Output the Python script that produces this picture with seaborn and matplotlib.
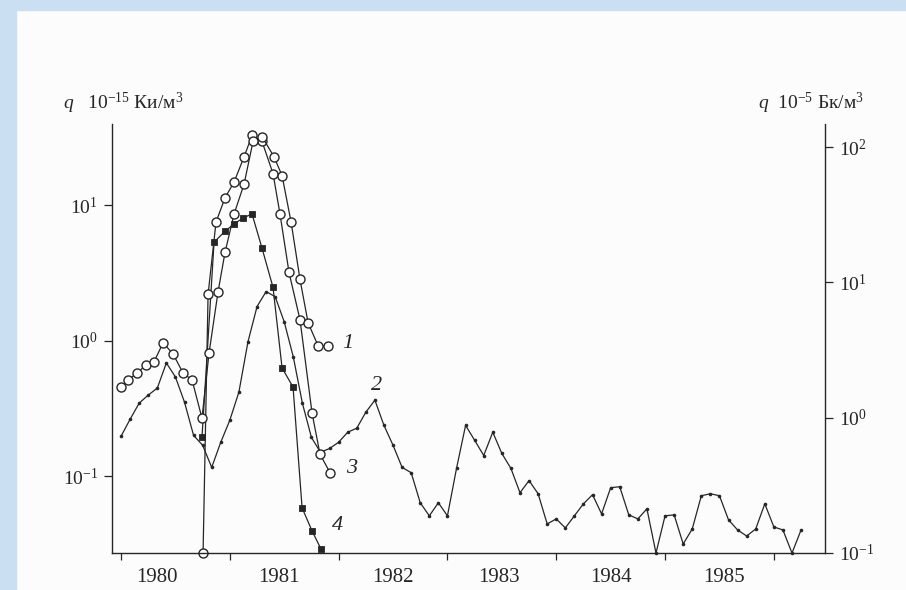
import numpy as np
import matplotlib
matplotlib.use("Agg")
import matplotlib.pyplot as plt
import seaborn as sns
from matplotlib.patches import Rectangle
from matplotlib.ticker import FixedLocator, FixedFormatter, NullLocator, NullFormatter

# ---- data -------------------------------------------------------------
# curve 2: monthly values, January 1980 onwards (10^-15 Ci/m^3)
months2 = np.arange(76)
q2 = [0.197, 0.263, 0.346, 0.397, 0.447, 0.686, 0.540, 0.352, 0.200, 0.169,
      0.116, 0.178, 0.259, 0.418, 0.983, 1.79, 2.31, 2.12, 1.38, 0.760,
      0.346, 0.193, 0.150, 0.160, 0.178, 0.211, 0.226, 0.297, 0.364, 0.237,
      0.169, 0.116, 0.106, 0.0635, 0.0509, 0.0635, 0.0509, 0.114, 0.237, 0.184,
      0.142, 0.211, 0.147, 0.114, 0.0754, 0.0926, 0.0741, 0.0443, 0.0483, 0.0414,
      0.0509, 0.0624, 0.0729, 0.0526, 0.0821, 0.0835, 0.0517, 0.0483, 0.0573, 0.0270,
      0.0509, 0.0517, 0.0315, 0.0407, 0.0716, 0.0741, 0.0716, 0.0475, 0.0400, 0.0361,
      0.0407, 0.0624, 0.0421, 0.0400, 0.0270, 0.0400]

# curve 1: open circles
t1 = [1980.000, 1980.064, 1980.147, 1980.230, 1980.303, 1980.386, 1980.478,
      1980.570, 1980.653, 1980.744, 1980.809, 1980.892, 1980.956, 1981.039,
      1981.131, 1981.213, 1981.296, 1981.406, 1981.480, 1981.563, 1981.645,
      1981.719, 1981.811, 1981.903]
q1 = [0.455, 0.513, 0.578, 0.663, 0.698, 0.966, 0.800, 0.578, 0.513, 0.268,
      0.814, 2.31, 4.51, 8.65, 14.4, 29.7, 32.3, 22.9, 16.6, 7.54,
      2.84, 1.36, 0.918, 0.918]

# curve 3: open circles, starting below the detection limit
t3 = [1980.754, 1980.800, 1980.873, 1980.956, 1981.039, 1981.131, 1981.204,
      1981.296, 1981.397, 1981.461, 1981.544, 1981.645, 1981.756, 1981.829,
      1981.921]
q3 = [0.027, 2.20, 7.54, 11.4, 14.9, 22.9, 32.9, 29.7, 17.2, 8.65,
      3.20, 1.43, 0.291, 0.145, 0.106]

# curve 4: filled squares
t4 = [1980.744, 1980.855, 1980.956, 1981.039, 1981.121, 1981.204, 1981.296,
      1981.397, 1981.480, 1981.581, 1981.664, 1981.756, 1981.838]
q4 = [0.193, 5.35, 6.46, 7.29, 8.08, 8.65, 4.83, 2.48, 0.630, 0.455,
      0.0583, 0.0393, 0.0289]

years = [1980, 1981, 1982, 1983, 1984, 1985]
year_label_pos = [1980.33, 1981.45, 1982.50, 1983.47, 1984.50, 1985.54]
left_ticks = [0.1, 1, 10]
left_labels = [r"$10^{-1}$", r"$10^{0}$", r"$10^{1}$"]
right_ticks = [0.1, 1, 10, 100]
right_labels = [r"$10^{-1}$", r"$10^{0}$", r"$10^{1}$", r"$10^{2}$"]
CI_TO_BQ = 3.7  # 1e-15 Ci = 3.7e-5 Bq

# ---- style ------------------------------------------------------------
sns.set_style("ticks")
plt.rcParams["font.family"] = ["Liberation Serif", "DejaVu Serif"]
plt.rcParams["mathtext.fontset"] = "custom"
plt.rcParams["mathtext.rm"] = "Liberation Serif"
plt.rcParams["mathtext.it"] = "Liberation Serif:italic"
ink = "#262626"

fig = plt.figure(figsize=(9.06, 5.90), dpi=100, facecolor="#fcfcfc")
fig.patches.append(Rectangle((0, 0), 16 / 906, 1, transform=fig.transFigure,
                             color="#cadff2", zorder=0))
fig.patches.append(Rectangle((0, 1 - 10 / 590), 1, 10 / 590, transform=fig.transFigure,
                             color="#cadff2", zorder=0))

ax = fig.add_axes([112 / 906, 37 / 590, 713 / 906, 429 / 590])
ax.set_facecolor("none")

common = dict(ax=ax, color=ink, linewidth=0.9, sort=False, estimator=None,
              clip_on=False, legend=False)

sns.lineplot(x=1980 + months2 / 12, y=q2, marker="o", markersize=2.6,
             markeredgewidth=0, markerfacecolor=ink, **common)
sns.lineplot(x=t4, y=q4, marker="s", markersize=4.2, markeredgewidth=0.6,
             markerfacecolor=ink, markeredgecolor=ink, **common)
sns.lineplot(x=t3, y=q3, marker="o", markersize=6.5, markeredgewidth=1.0,
             markerfacecolor="white", markeredgecolor=ink, **common)
sns.lineplot(x=t1, y=q1, marker="o", markersize=6.5, markeredgewidth=1.0,
             markerfacecolor="white", markeredgecolor=ink, **common)

ax.set_yscale("log")
ax.set_ylim(0.1 / CI_TO_BQ, 40)
ax.set_xlim(1979.917, 1986.47)
ax.set_xlabel("")
ax.set_ylabel("")

for side in ("top", "right"):
    ax.spines[side].set_visible(False)
for side in ("left", "bottom"):
    ax.spines[side].set_color(ink)
    ax.spines[side].set_linewidth(1.0)

# x axis: ticks at year boundaries, labels in between
ax.xaxis.set_major_locator(FixedLocator(years + [1986]))
ax.xaxis.set_major_formatter(NullFormatter())
ax.xaxis.set_minor_locator(FixedLocator(year_label_pos))
ax.xaxis.set_minor_formatter(FixedFormatter([str(y) for y in years]))
ax.tick_params(axis="x", which="major", direction="out", length=5, width=0.9,
               color=ink)
ax.tick_params(axis="x", which="minor", length=0, pad=11, labelsize=15,
               labelcolor=ink)

# left axis in 10^-15 Ci/m^3
ax.yaxis.set_major_locator(FixedLocator(left_ticks))
ax.yaxis.set_major_formatter(FixedFormatter(left_labels))
ax.yaxis.set_minor_locator(NullLocator())
ax.tick_params(axis="y", which="major", direction="out", length=6, width=0.9,
               color=ink, labelsize=14, labelcolor=ink, pad=4)

# right axis in 10^-5 Bq/m^3
sec = ax.secondary_yaxis("right", functions=(lambda v: v * CI_TO_BQ,
                                             lambda v: v / CI_TO_BQ))
sec.yaxis.set_major_locator(FixedLocator(right_ticks))
sec.yaxis.set_major_formatter(FixedFormatter(right_labels))
sec.yaxis.set_minor_locator(NullLocator())
sec.tick_params(axis="y", which="major", direction="out", length=6, width=0.9,
                color=ink, labelsize=14, labelcolor=ink, pad=4)
sec.spines["right"].set_color(ink)
sec.spines["right"].set_linewidth(1.0)

# curve numbers
num_style = dict(fontsize=16, style="italic", color=ink, ha="center", va="center")
ax.text(1982.08, 0.95, "1", **num_style)
ax.text(1982.35, 0.47, "2", **num_style)
ax.text(1982.12, 0.113, "3", **num_style)
ax.text(1981.99, 0.043, "4", **num_style)

# unit captions above both axes
fig.text(63 / 906, 1 - 103 / 590, r"$q$   10$^{-15}$ Ки/м$^{3}$", fontsize=14,
         color=ink, ha="left", va="center")
fig.text(864 / 906, 1 - 103 / 590, r"$q$  10$^{-5}$ Бк/м$^{3}$", fontsize=14,
         color=ink, ha="right", va="center")

fig.savefig("out.png", dpi=100, facecolor=fig.get_facecolor())
